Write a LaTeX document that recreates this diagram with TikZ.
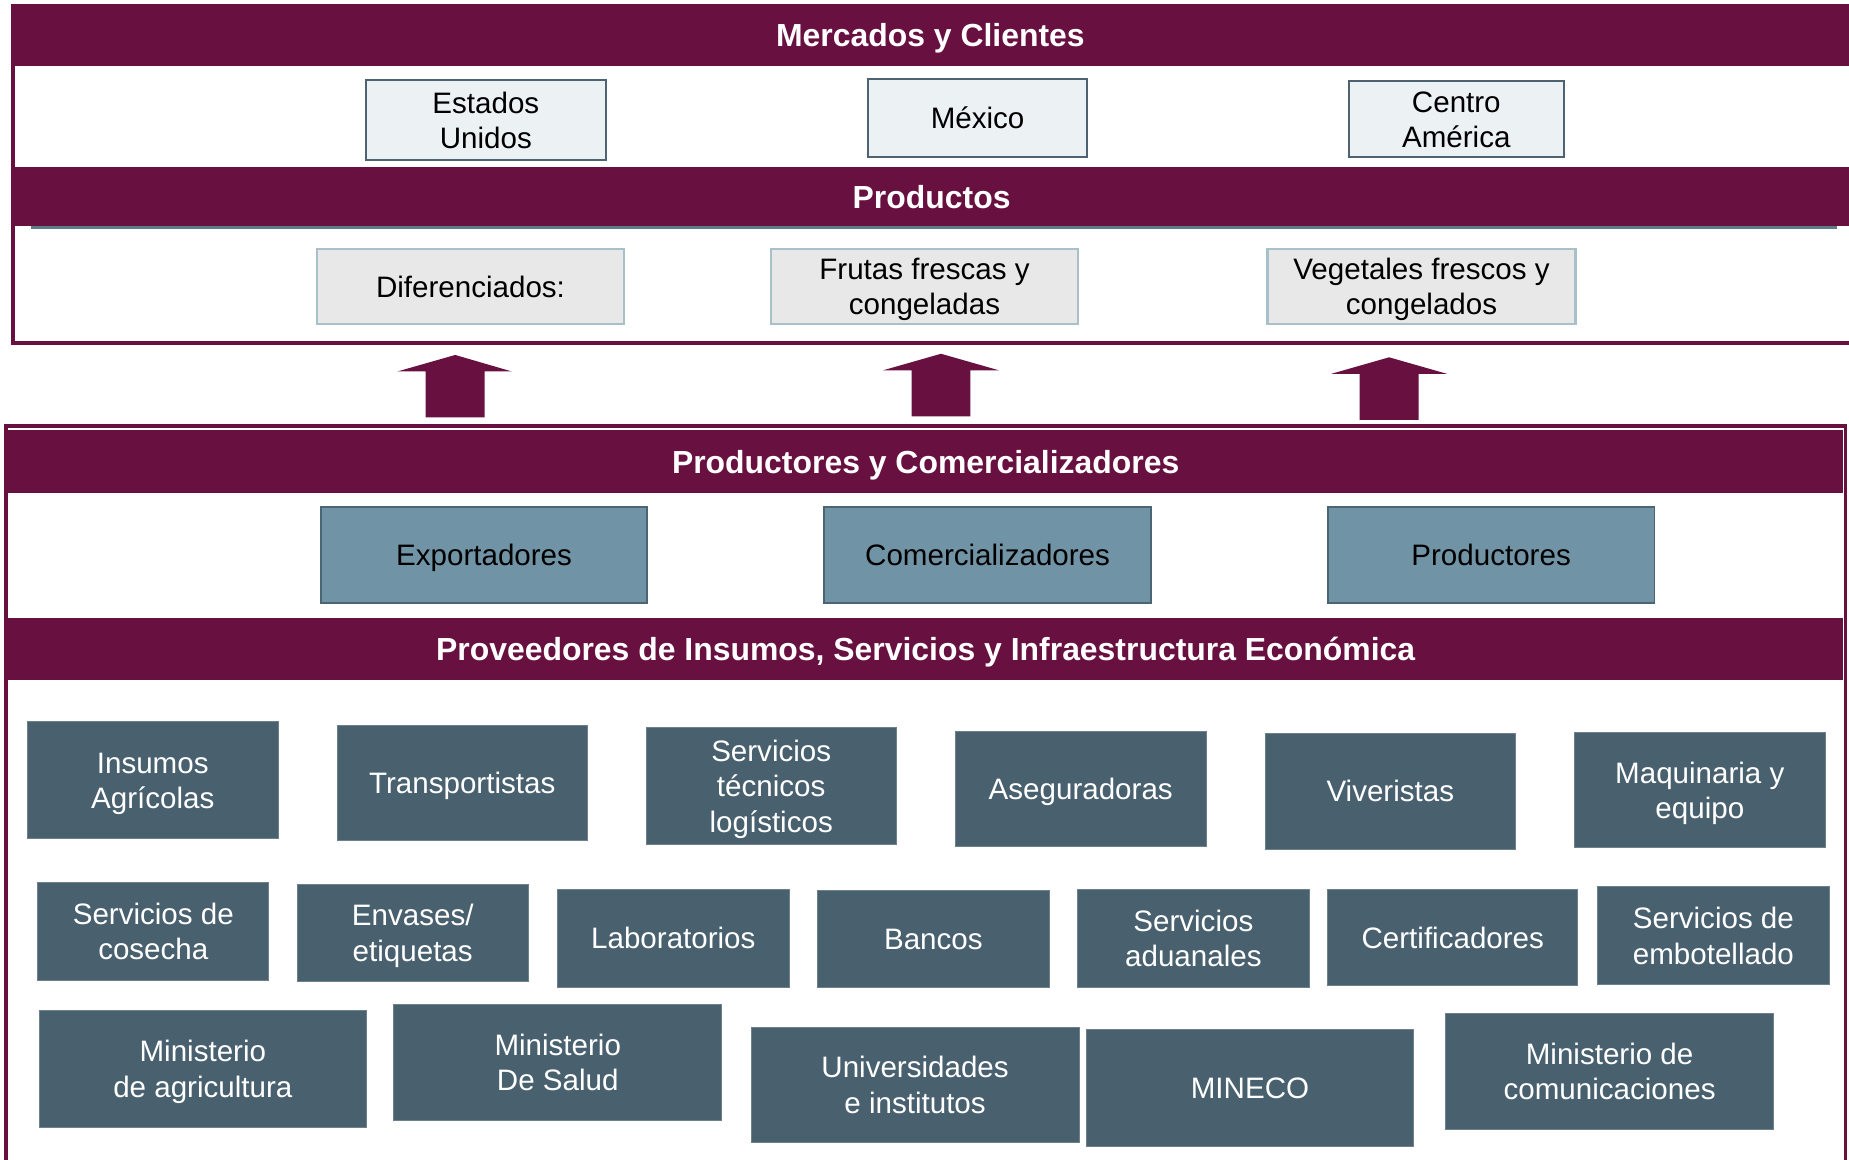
\documentclass[tikz,border=0pt]{standalone}
\usepackage{fontspec}
\setmainfont{Liberation Sans}
\definecolor{maroon}{RGB}{104,16,63}
\definecolor{darkfill}{RGB}{73,97,111}
\definecolor{darkborder}{RGB}{110,128,138}
\definecolor{midfill}{RGB}{112,147,165}
\definecolor{midborder}{RGB}{76,101,115}
\definecolor{lightfill}{RGB}{236,241,244}
\definecolor{lightborder}{RGB}{78,99,113}
\definecolor{prodfill}{RGB}{232,232,232}
\definecolor{prodborder}{RGB}{169,191,202}
\definecolor{slateline}{RGB}{92,124,134}
% \bx{style}{x1}{y1}{x2}{y2}{name}{text}
\newcommand\bx[7]{\node[#1, minimum width={(#4-#2)*0.75pt}, minimum height={(#5-#3)*0.75pt}] (#6) at ({(#2+#4)/2},{(#3+#5)/2}) {#7};}
\begin{document}
\begin{tikzpicture}[x=0.75pt,y=-0.75pt,
  box/.style={rectangle, inner sep=0pt, outer sep=0pt, align=center, font=\fontsize{18.8}{22.5}\selectfont},
  oneline/.style={text height=13.6pt, text depth=0pt},
  twoline/.style={text height=36.1pt, text depth=0pt},
  threeline/.style={text height=58.6pt, text depth=0pt},
  mktbox/.style={box, fill=lightfill, draw=lightborder, line width=1.2pt},
  prodbox/.style={box, fill=prodfill, draw=prodborder, line width=1.5pt},
  actorbox/.style={box, fill=midfill, draw=midborder, line width=1.2pt, oneline},
  supbox/.style={box, fill=darkfill, draw=darkborder, line width=0.5pt, text=white},
  band/.style={rectangle, inner sep=0pt, outer sep=0pt, fill=maroon, draw=none, text=white,
    font=\bfseries\fontsize{20.3}{24}\selectfont, text height=15pt, text depth=0pt},
  frameline/.style={draw=maroon, line width=2.5pt},
  bigarrow/.style={fill=maroon}]
\useasboundingbox (0,0) rectangle (1568,983);

% ---------- top frame ----------
\bx{band}{10}{3}{1568}{56}{mercados}{Mercados y Clientes}
\bx{band}{12}{142}{1568}{192}{productos}{Productos}
\draw[slateline, line width=1.5pt] (26,192.8) -- (1558,192.8);
\draw[frameline] (11,3) -- (11,291) -- (1568,291);

\bx{mktbox, twoline}{310}{68}{514}{136}{eeuu}{Estados\\Unidos}
\bx{mktbox, oneline}{736}{67}{922}{133}{mexico}{México}
\bx{mktbox, twoline}{1144}{69}{1326}{133}{centro}{Centro\\América}

\bx{prodbox, oneline}{269}{211}{529}{275}{dif}{Diferenciados:}
\bx{prodbox, twoline}{654}{211}{914}{275}{frutas}{Frutas frescas y\\congeladas}
\bx{prodbox, twoline}{1075}{211}{1336}{275}{veg}{Vegetales frescos y\\congelados}

% ---------- block arrows ----------
\fill[bigarrow] (361,354) -- (361,315) -- (337,315) -- (386,301) -- (434,315) -- (411,315) -- (411,354) -- cycle;
\fill[bigarrow] (773,353) -- (773,314) -- (749,314) -- (798,300) -- (847,314) -- (823,314) -- (823,353) -- cycle;
\fill[bigarrow] (1153,356) -- (1153,317) -- (1129,317) -- (1178,303) -- (1227,317) -- (1203,317) -- (1203,356) -- cycle;

% ---------- bottom frame ----------
\draw[frameline] (5,995) -- (5,361) -- (1565,361) -- (1565,995);
\bx{band}{7}{365}{1563}{418}{prodcom}{Productores y Comercializadores}
\bx{band}{7}{524}{1563}{577}{proveedores}{Proveedores de Insumos, Servicios y Infraestructura Económica}

\bx{actorbox}{272}{430}{549}{511}{exp}{Exportadores}
\bx{actorbox}{699}{430}{976}{511}{com}{Comercializadores}
\bx{actorbox}{1126}{430}{1403}{511}{prod}{Productores}

% row A
\bx{supbox, twoline}{23}{612}{236}{711}{insumos}{Insumos\\Agrícolas}
\bx{supbox, oneline}{286}{615}{498}{713}{transp}{Transportistas}
\bx{supbox, threeline}{548}{617}{760}{716}{servtec}{Servicios\\técnicos\\logísticos}
\bx{supbox, oneline}{810}{620}{1023}{718}{aseg}{Aseguradoras}
\bx{supbox, oneline}{1073}{622}{1285}{720}{viver}{Viveristas}
\bx{supbox, twoline}{1335}{621}{1548}{719}{maq}{Maquinaria y\\equipo}
% row B
\bx{supbox, twoline}{32}{748}{228}{831}{cosecha}{Servicios de\\cosecha}
\bx{supbox, twoline}{252}{750}{448}{832}{envases}{Envases/\\etiquetas}
\bx{supbox, oneline}{473}{754}{669}{837}{lab}{Laboratorios}
\bx{supbox, oneline}{693}{755}{890}{837}{bancos}{Bancos}
\bx{supbox, twoline}{914}{754}{1110}{837}{aduanas}{Servicios\\aduanales}
\bx{supbox, oneline}{1126}{754}{1338}{836}{cert}{Certificadores}
\bx{supbox, twoline}{1355}{752}{1551}{835}{embot}{Servicios de\\embotellado}
% row C
\bx{supbox, twoline}{33}{857}{311}{956}{magri}{Ministerio\\de agricultura}
\bx{supbox, twoline}{334}{852}{612}{950}{msalud}{Ministerio\\De Salud}
\bx{supbox, twoline}{637}{871}{915}{969}{univ}{Universidades\\e institutos}
\bx{supbox, oneline}{921}{873}{1199}{972}{mineco}{MINECO}
\bx{supbox, twoline}{1226}{859}{1504}{958}{mcom}{Ministerio de\\comunicaciones}
\end{tikzpicture}
\end{document}
